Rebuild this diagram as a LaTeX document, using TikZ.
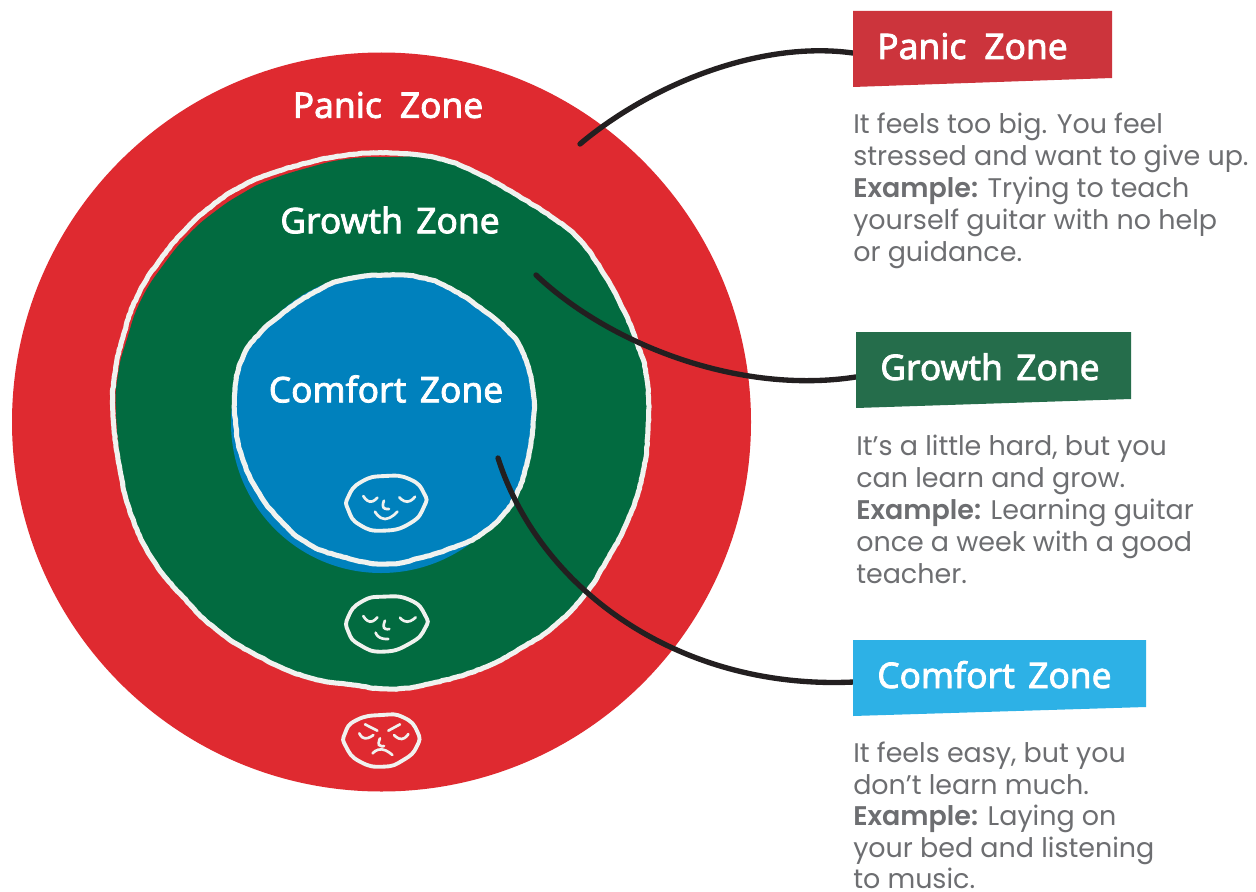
\documentclass[tikz,border=0pt]{standalone}
\usepackage{fontspec}
\usetikzlibrary{decorations.pathmorphing}
\setmainfont[BoldFont={Poppins SemiBold}]{Poppins}
\newfontfamily\zonefont[FakeBold=2.2]{Noto Sans}
\definecolor{redzone}{HTML}{DF2A30}
\definecolor{greenzone}{HTML}{026B40}
\definecolor{bluezone}{HTML}{0081BD}
\definecolor{redbox}{HTML}{CC343C}
\definecolor{greenbox}{HTML}{256D4B}
\definecolor{bluebox}{HTML}{2DB1E6}
\definecolor{bodygrey}{HTML}{6D6E71}
\definecolor{inkline}{HTML}{231F20}
\definecolor{chalk}{HTML}{F0F2EF}
\tikzset{
  zonelabel/.style={font=\zonefont\fontsize{26.5}{30}\selectfont,text=white,inner sep=0pt},
  boxhit/.style={inner sep=0pt,outer sep=0pt,minimum height=50.25pt,anchor=north west},
  bodytext/.style={font=\fontsize{20.2}{24}\selectfont,text=bodygrey,align=left,anchor=north west,inner sep=0pt},
  chalkline/.style={draw=chalk,line width=3.8pt,line join=round,decorate,decoration={random steps,segment length=2.5pt,amplitude=.25pt}},
  faceline/.style={draw=chalk,line width=2.9pt,line cap=round},
  featline/.style={draw=chalk,line width=2pt,line cap=round},
  leader/.style={draw=inkline,line width=4pt,line cap=round},
}
\newcommand{\lineup}{\rule{0pt}{20pt}}
\begin{document}
\begin{tikzpicture}[x=.75pt,y=-.75pt]
\useasboundingbox (0,0) rectangle (1256,892);
\fill[white] (0,0) rectangle (1256,892);
\fill[redzone] (381.5,422) circle[radius=369.5];
% green disc
\fill[greenzone] plot[smooth cycle,tension=.8] coordinates {
 (390,157)(347,159)(307,168)(267,181)(243,193)(217,210)(190,233)(164,264)(141,300)(127,339)(118,374)(116,413)
 (122,470)(134,517)(153,560)(183,597)(217,630)(260,657)(307,677)(353,685)(393,688)
 (433,683)(483,668)(523,647)(553,627)(583,597)(607,560)(628,520)(642,477)(648,430)
 (647,380)(637,343)(620,303)(597,263)(577,237)(553,218)(520,197)(477,173)(437,158)};
% blue disc
\fill[bluezone] (381,423) circle[radius=150];
\fill[bluezone] plot[smooth cycle,tension=.8] coordinates {
 (385,275)(343,280)(313,293)(287,310)(260,333)(243,357)(235,390)(236,427)(242,457)(257,490)(280,520)(307,543)(340,556)(383,564)
 (420,558)(457,546)(480,535)(503,515)(517,493)(527,463)(533,425)(533,390)(523,353)(507,330)(483,310)(453,290)(423,278)};
% chalk outlines
\draw[chalkline] plot[smooth cycle,tension=.8] coordinates {
 (390,153)(347,155)(307,163)(267,175)(240,187)(213,205)(187,228)(160,260)(137,297)(123,337)(115,373)(113,413)
 (120,470)(132,517)(153,560)(183,597)(217,630)(260,657)(307,677)(353,685)(393,689)
 (433,683)(483,668)(523,647)(553,627)(583,597)(607,560)(628,520)(642,477)(648,430)
 (647,380)(637,343)(620,303)(597,263)(577,237)(553,218)(520,197)(477,173)(437,158)};
\draw[chalkline] plot[smooth cycle,tension=.8] coordinates {
 (385,275)(343,280)(313,293)(287,310)(260,333)(243,357)(235,390)(236,427)(242,457)(257,490)(280,520)(307,543)(340,556)(383,564)
 (420,558)(457,546)(480,535)(503,515)(517,493)(527,463)(533,425)(533,390)(523,353)(507,330)(483,310)(453,290)(423,278)};
% faces, in coordinates of a 3x crop
\begin{scope}[shift={(320,460)},x=.25pt,y=-.25pt]
 \draw[faceline] plot[smooth cycle,tension=.9] coordinates {(195,48)(270,58)(312,100)(312,140)(270,190)(190,212)(120,195)(85,150)(85,110)(125,65)};
 \draw[featline] plot[smooth,tension=1] coordinates {(130,108)(150,125)(172,113)};
 \draw[featline] plot[smooth,tension=1] coordinates {(238,112)(262,125)(285,110)};
 \draw[featline] plot[smooth,tension=1] coordinates {(192,122)(190,142)(207,147)};
 \draw[featline] plot[smooth,tension=1] coordinates {(165,155)(195,177)(232,155)};
 \draw[faceline] plot[smooth cycle,tension=.9] coordinates {(190,410)(270,420)(315,465)(315,505)(270,550)(190,575)(120,555)(85,515)(85,470)(125,425)};
 \draw[featline] plot[smooth,tension=1] coordinates {(130,468)(150,485)(172,472)};
 \draw[featline] plot[smooth,tension=1] coordinates {(240,473)(262,485)(287,472)};
 \draw[featline] plot[smooth,tension=1] coordinates {(195,482)(192,503)(208,507)};
 \draw[featline] plot[smooth,tension=1] coordinates {(167,518)(180,533)(205,537)};
 \draw[faceline] plot[smooth cycle,tension=.9] coordinates {(185,765)(250,772)(292,815)(290,860)(250,900)(190,920)(120,905)(78,860)(75,820)(110,780)};
 \draw[featline] plot[smooth,tension=1] coordinates {(118,820)(135,835)(160,825)};
 \draw[featline] plot[smooth,tension=1] coordinates {(222,825)(245,837)(265,822)};
 \draw[featline] (135,793) -- (172,812);
 \draw[featline] (205,812) -- (240,793);
 \draw[featline] plot[smooth,tension=1] coordinates {(180,835)(177,855)(192,858)};
 \draw[featline] plot[smooth,tension=1] coordinates {(158,880)(185,868)(217,885)};
\end{scope}
% zone names on the discs
\node[zonelabel] (panicdisc) at (388,105) {Panic\hspace{.25em} Zone};
\node[zonelabel] (growthdisc) at (390,220) {Growth\hspace{.12em} Zone};
\node[zonelabel] (comfortdisc) at (386,389) {Comfort\hspace{.12em} Zone};
% boxes and leaders
\node[boxhit,minimum width=194.25pt] (panicbox) at (853,11) {};
\node[boxhit,minimum width=206.25pt] (growthbox) at (856,332) {};
\node[boxhit,minimum width=219.75pt] (comfortbox) at (853,640) {};
\coordinate (panicfrom) at (580,144);
\coordinate (growthfrom) at (536,275);
\coordinate (comfortfrom) at (498,458);
\draw[leader] (panicfrom) .. controls (650,85) and (760,40) .. ([yshift=-6.4pt]panicbox.west);
\draw[leader] (growthfrom) .. controls (610,345) and (740,395) .. ([yshift=-8.6pt]growthbox.west);
\draw[leader] (comfortfrom) .. controls (540,590) and (680,690) .. ([yshift=-6.4pt]comfortbox.west);
\fill[redbox] (panicbox.north west) -- (panicbox.north east) -- (panicbox.south east) -- ([yshift=-6.75pt]panicbox.south west) -- cycle;
\fill[greenbox] (growthbox.north west) -- (growthbox.north east) -- (growthbox.south east) -- ([yshift=-6.75pt]growthbox.south west) -- cycle;
\fill[bluebox] (comfortbox.north west) -- (comfortbox.north east) -- (comfortbox.south east) -- ([yshift=-6.75pt]comfortbox.south west) -- cycle;
\node[zonelabel,anchor=base west] (paniclabel) at (877,59) {Panic\hspace{.25em} Zone};
\node[zonelabel,anchor=base west] (growthlabel) at (880,380) {Growth\hspace{.12em} Zone};
\node[zonelabel,anchor=base west] (comfortlabel) at (877,688) {Comfort\hspace{.12em} Zone};
% body text
\node[bodytext] (panictext) at (853,107) {\lineup It feels too big. You feel\\stressed and want to give up.\\\textbf{Example:} Trying to teach\\yourself guitar with no help\\or guidance.};
\node[bodytext] (growthtext) at (856,429) {\lineup It’s a little hard, but you\\can learn and grow.\\\textbf{Example:} Learning guitar\\once a week with a good\\teacher.};
\node[bodytext,font=\fontsize{20.2}{23.6}\selectfont] (comforttext) at (853,736) {\lineup It feels easy, but you\\don’t learn much.\\\textbf{Example:} Laying on\\your bed and listening\\to music.};
\end{tikzpicture}
\end{document}
